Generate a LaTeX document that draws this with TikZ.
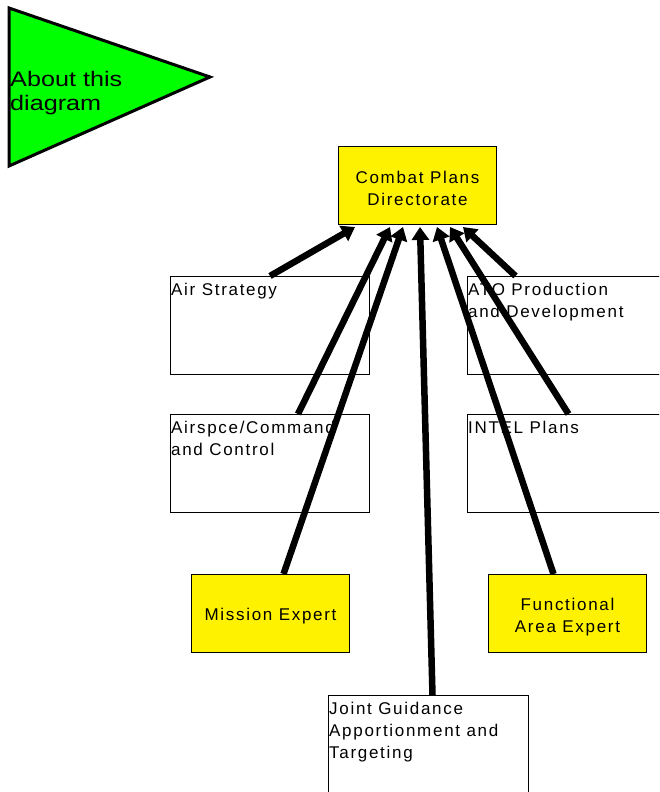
\documentclass[tikz,border=0pt]{standalone}
\usepackage{fontspec}
\setmainfont{Liberation Sans}
\newfontfamily\boxfont[LetterSpace=10]{Liberation Sans}
\newfontfamily\trifont[FakeStretch=1.2]{Liberation Sans}
\usetikzlibrary{arrows.meta,calc}
\begin{document}
\begin{tikzpicture}[x=1pt,y=-1pt,
  box/.style={draw=black,line width=1pt,fill=white,minimum width=199pt,minimum height=98pt,anchor=north west,inner sep=0pt},
  ybox/.style={draw=black,line width=1pt,fill=yellow,minimum width=158pt,minimum height=78pt,anchor=north west,inner sep=0pt},
  ytxt/.style={inner sep=0pt,align=center,font=\boxfont\fontsize{17}{22}\selectfont},
  txt/.style={anchor=north west,inner xsep=1pt,inner ysep=6.5pt,align=left,font=\boxfont\fontsize{17}{22}\selectfont},
  conn/.style={line width=6.5pt,-{Triangle[width=17pt,length=13pt]}}
]
\clip (0,0) rectangle (659,792);
\fill[white] (0,0) rectangle (659,792);
% triangle
\draw[line width=3pt,line join=miter,fill=green] (9,8) -- (210,77) -- (9,166) -- cycle;
\node[anchor=west,inner sep=0pt,align=left,font=\trifont\fontsize{21}{24}\selectfont] (about) at (10,93) {About this\\diagram};
% boxes
\node[ybox] (cp) at (338,146) {};
\node[ytxt] (cpt) at ([yshift=-3pt]cp.center) {Combat Plans\\Directorate};
\node[box] (air) at (170,276) {};
\node[txt] (airt) at (air.north west) {Air Strategy};
\node[box] (asp) at (170,414) {};
\node[txt] (aspt) at (asp.north west) {Airspce/Command\\and Control};
\node[box] (ato) at (467,276) {};
\node[txt] (atot) at (ato.north west) {ATO Production\\and Development};
\node[box] (intel) at (467,414) {};
\node[txt] (intelt) at (intel.north west) {INTEL Plans};
\node[ybox] (mis) at (191,574) {};
\node[ytxt] (mist) at ([yshift=-3pt]mis.center) {Mission Expert};
\node[ybox] (fun) at (488,574) {};
\node[ytxt] (funt) at ([yshift=-4pt]fun.center) {Functional\\Area Expert};
\node[box,minimum width=200pt] (jg) at (328,695) {};
\node[txt] (jgt) at (jg.north west) {Joint Guidance\\Apportionment and\\Targeting};
% connectors
\draw[conn] (air.north) -- ([xshift=-62.5pt,yshift=-2pt]cp.south);
\draw[conn] ([xshift=28pt]asp.north) -- ([xshift=-27.5pt,yshift=-2pt]cp.south);
\draw[conn] ([xshift=13pt]mis.north) -- ([xshift=-14.5pt,yshift=-2pt]cp.south);
\draw[conn] ([xshift=4pt]jg.north) -- ([xshift=2.5pt,yshift=-2pt]cp.south);
\draw[conn] ([xshift=-14pt]fun.north) -- ([xshift=19.5pt,yshift=-2pt]cp.south);
\draw[conn] ([xshift=1.5pt]intel.north) -- ([xshift=32.5pt,yshift=-2pt]cp.south);
\draw[conn] ([xshift=-51.5pt]ato.north) -- ([xshift=45.5pt,yshift=-2pt]cp.south);
\end{tikzpicture}
\end{document}
